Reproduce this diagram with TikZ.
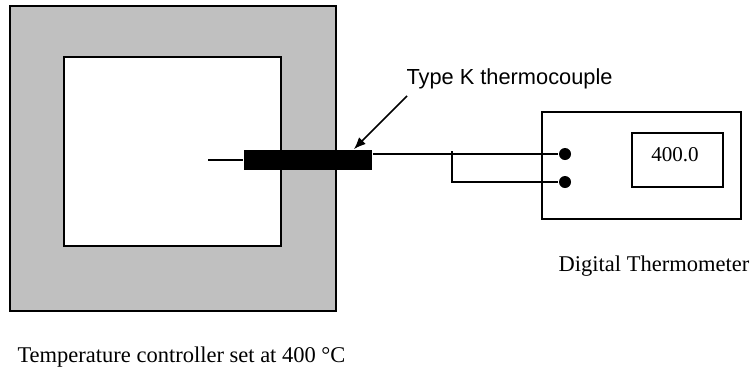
\documentclass[tikz,border=0pt]{standalone}
\usepackage{fontspec}
\setmainfont{Liberation Serif}
\newfontfamily\labelfont{Liberation Sans}
\usepackage{tikz}
\usetikzlibrary{calc,arrows.meta}
\definecolor{wallgray}{RGB}{192,192,192}

\begin{document}
\begin{tikzpicture}[x=0.025cm,y=-0.025cm,line width=1.2pt,
    box/.style={draw,rectangle,inner sep=0pt},
    pin/.style={circle,fill,inner sep=0pt,minimum size=0.3cm}]
    \useasboundingbox (0,0) rectangle (753,371);
    % furnace
    \draw[fill=wallgray] (10,6) rectangle (336,311);
    \draw[fill=white] (64,57) rectangle (281,246);
    \node[anchor=base west,font=\fontsize{16}{19}\selectfont] (furnacelabel) at (12,362) {Temperature controller set at 400 \textdegree C};

    % thermocouple
    \coordinate (tip) at (208,160);
    \node[rectangle,fill,inner sep=0pt,minimum width=3.2cm,minimum height=0.5cm] (probe) at (308,160) {};
    \draw (tip) -- (probe.west);
    \node[anchor=base west,font=\labelfont\fontsize{15.5}{18}\selectfont] (probelabel) at (401,84) {Type K thermocouple};
    \coordinate (arrowstart) at (407,96);
    \draw[-{Latex[length=0.3cm,width=0.24cm]}] (arrowstart) -- ($(probe.north east)+(-19,0)$);

    % digital thermometer
    \node[box,minimum width=4.975cm,minimum height=2.675cm] (meter) at (641.5,165.5) {};
    \node[box,minimum width=2.275cm,minimum height=1.35cm] (display) at (677.5,160) {};
    \node[anchor=base,font=\fontsize{15}{18}\selectfont] (reading) at (675,161) {400.0};
    \node[anchor=base,font=\fontsize{16}{19}\selectfont] (meterlabel) at (654,271) {Digital Thermometer};
    \node[pin] (pinA) at (565,154) {};
    \node[pin] (pinB) at (565,182) {};

    % wires
    \draw (probe.east |- pinA) -- (pinA);
    \coordinate (branch) at (452,151);
    \draw (branch) |- (pinB);
\end{tikzpicture}
\end{document}
